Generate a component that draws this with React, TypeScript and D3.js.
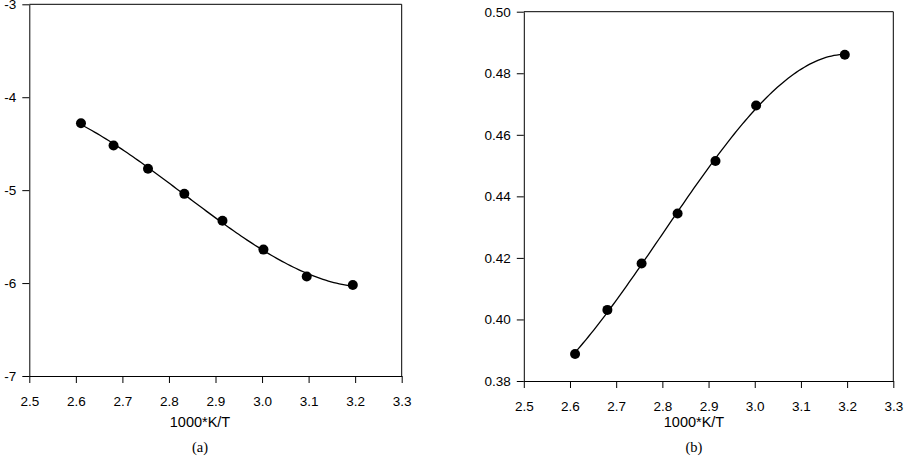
import { useEffect, useRef } from "react"
import * as d3 from "d3"

// 1000/T for T = 383 ... 313 K
const xA = [2.611, 2.681, 2.755, 2.833, 2.915, 3.003, 3.096, 3.195]
const yA = [-4.28, -4.52, -4.77, -5.04, -5.33, -5.64, -5.93, -6.02]

const xB = [2.611, 2.681, 2.755, 2.833, 2.915, 3.003, 3.195]
const yB = [0.3888, 0.4031, 0.4182, 0.4344, 0.4515, 0.4695, 0.486]

const xTicks = [2.5, 2.6, 2.7, 2.8, 2.9, 3.0, 3.1, 3.2, 3.3]
const yTicksA = [-3, -4, -5, -6, -7]
const yTicksB = [0.38, 0.4, 0.42, 0.44, 0.46, 0.48, 0.5]

type PanelSpec = {
  xs: number[]
  ys: number[]
  yDomain: [number, number]
  yTicks: number[]
  yDigits: number
  left: number
  right: number
  top: number
  bottom: number
  caption: string
  titleX: number
}

const panels: PanelSpec[] = [
  {
    xs: xA,
    ys: yA,
    yDomain: [-7, -3],
    yTicks: yTicksA,
    yDigits: 0,
    left: 29.3,
    right: 401.7,
    top: 4.3,
    bottom: 376,
    caption: "(a)",
    titleX: 200,
  },
  {
    xs: xB,
    ys: yB,
    yDomain: [0.38, 0.5],
    yTicks: yTicksB,
    yDigits: 2,
    left: 523.8,
    right: 893.3,
    top: 11.7,
    bottom: 381,
    caption: "(b)",
    titleX: 694,
  },
]

const FONT = "'Liberation Sans', Arial, sans-serif"

// least-squares cubic fit, returns evaluator
function cubicFit(xs: number[], ys: number[]) {
  const m = d3.mean(xs) as number
  const n = 4
  const A = Array.from({ length: n }, () => new Array(n + 1).fill(0))
  xs.forEach((xv, k) => {
    const t = xv - m
    const pw = [1, t, t * t, t * t * t]
    for (let i = 0; i < n; i++) {
      for (let j = 0; j < n; j++) A[i][j] += pw[i] * pw[j]
      A[i][n] += pw[i] * ys[k]
    }
  })
  for (let c = 0; c < n; c++) {
    let piv = c
    for (let r = c + 1; r < n; r++) if (Math.abs(A[r][c]) > Math.abs(A[piv][c])) piv = r
    ;[A[c], A[piv]] = [A[piv], A[c]]
    for (let r = 0; r < n; r++) {
      if (r === c) continue
      const f = A[r][c] / A[c][c]
      for (let j = c; j <= n; j++) A[r][j] -= f * A[c][j]
    }
  }
  const coef = A.map((row, i) => row[n] / row[i])
  return (xv: number) => {
    const t = xv - m
    return coef[0] + coef[1] * t + coef[2] * t * t + coef[3] * t * t * t
  }
}

export default function App() {
  const svgRef = useRef<SVGSVGElement>(null)

  useEffect(() => {
    if (!svgRef.current) return
    const svg = d3.select(svgRef.current)
    svg.selectAll("*").remove()

    panels.forEach((p) => {
      const x = d3.scaleLinear().domain([2.5, 3.3]).range([p.left, p.right])
      const y = d3.scaleLinear().domain(p.yDomain).range([p.bottom, p.top])
      const g = svg.append("g")

      // frame (top + right)
      g.append("path")
        .attr("d", `M${p.left},${p.top}H${p.right}V${p.bottom}`)
        .attr("fill", "none")
        .attr("stroke", "#000")
        .attr("stroke-width", 1)

      const xAxis = g
        .append("g")
        .attr("transform", `translate(0,${p.bottom})`)
        .call(
          d3
            .axisBottom(x)
            .tickValues(xTicks)
            .tickFormat((d) => (+d).toFixed(1))
            .tickSize(7)
            .tickPadding(13)
            .tickSizeOuter(0),
        )
      const yAxis = g
        .append("g")
        .attr("transform", `translate(${p.left},0)`)
        .call(
          d3
            .axisLeft(y)
            .tickValues(p.yTicks)
            .tickFormat((d) => (+d).toFixed(p.yDigits))
            .tickSize(7)
            .tickPadding(6)
            .tickSizeOuter(0),
        )
      ;[xAxis, yAxis].forEach((a) => {
        a.attr("font-family", FONT).attr("font-size", 13.5)
        a.selectAll("text").attr("fill", "#000")
        a.selectAll("line,path").attr("stroke", "#000")
      })

      const pts = p.xs.map((v, i) => [v, p.ys[i]] as [number, number])

      // fitted regression curve over the data range
      const fit = cubicFit(p.xs, p.ys)
      const [x0, x1] = d3.extent(p.xs) as [number, number]
      const curvePts = d3.range(0, 101).map((i) => {
        const xv = x0 + ((x1 - x0) * i) / 100
        return [xv, fit(xv)] as [number, number]
      })

      const line = d3
        .line<[number, number]>()
        .x((d) => x(d[0]))
        .y((d) => y(d[1]))

      g.append("path")
        .datum(curvePts)
        .attr("d", line)
        .attr("fill", "none")
        .attr("stroke", "#000")
        .attr("stroke-width", 1.3)

      g.selectAll(".dot")
        .data(pts)
        .enter()
        .append("circle")
        .attr("cx", (d) => x(d[0]))
        .attr("cy", (d) => y(d[1]))
        .attr("r", 5)
        .attr("fill", "#000")

      g.append("text")
        .attr("x", p.titleX)
        .attr("y", 427)
        .attr("text-anchor", "middle")
        .attr("font-family", FONT)
        .attr("font-size", 14.5)
        .text("1000*K/T")

      g.append("text")
        .attr("x", p.titleX)
        .attr("y", 452)
        .attr("text-anchor", "middle")
        .attr("font-family", "'Liberation Serif', 'Times New Roman', serif")
        .attr("font-size", 14.5)
        .text(p.caption)
    })
  }, [])

  return (
    <svg
      ref={svgRef}
      width={906}
      height={456}
      style={{ position: "fixed", left: 0, top: 0, background: "#fff" }}
    />
  )
}
